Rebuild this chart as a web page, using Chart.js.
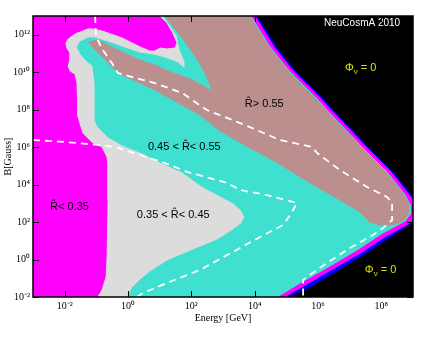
<!DOCTYPE html>
<html>
<head>
<meta charset="utf-8">
<script src="https://cdn.jsdelivr.net/npm/chart.js@4.4.0/dist/chart.umd.min.js"></script>
<style>
  html, body { margin: 0; padding: 0; background: #fff; }
</style>
</head>
<body>
<canvas id="myChart" width="440" height="340"></canvas>
<script>
// Axis range and ticks, in decades
const xTickExp = [-2, 0, 2, 4, 6, 8];
const yTickExp = [-2, 0, 2, 4, 6, 8, 10, 12];

// Contour regions, as [log10 E/GeV, log10 B/Gauss]
// (points beyond the axes are clipped away)
const backgroundRegion = [[-3.5, -2.5], [9.5, -2.5], [9.5, 13.5], [-3.5, 13.5]];

const grayRegion = [[1.01, 13.00], [1.23, 12.63], [1.42, 12.09], [1.55, 11.56], [1.48, 11.29], [1.23, 11.24],
  [1.01, 11.29], [0.85, 11.13], [0.69, 11.13], [0.38, 11.35], [-0.19, 11.83], [-0.82, 12.20], [-1.11, 12.31],
  [-1.26, 12.31], [-1.67, 12.04], [-1.89, 11.77], [-1.96, 11.56], [-1.93, 11.29], [-1.83, 11.02], [-1.83, 10.70],
  [-1.89, 10.33], [-1.83, 10.06], [-1.67, 9.90], [-1.61, 9.42], [-1.58, 8.57], [-1.58, 7.66], [-1.55, 7.45],
  [-1.42, 6.75], [-1.14, 6.27], [-0.82, 6.01], [-0.66, 5.47], [-0.63, 4.94], [-0.63, 3.18], [-0.66, 0.13],
  [-0.69, -0.93], [-0.82, -1.63], [-0.95, -2.00], [-0.95, -2.5], [9.5, -2.5], [9.5, 13.5], [1.01, 13.5]];

const cyanRegion = [[-1.61, 11.29], [-1.52, 11.61], [-1.26, 11.83], [-1.04, 11.83], [-0.63, 11.61], [0.00, 11.24],
  [0.38, 11.02], [0.79, 10.92], [1.17, 10.76], [1.58, 10.49], [1.83, 10.12], [1.80, 10.54], [1.71, 10.92],
  [1.64, 11.24], [1.55, 11.93], [1.39, 12.36], [1.23, 12.73], [1.11, 13.00], [1.11, 13.5], [9.5, 13.5],
  [9.5, -2.5], [-0.03, -2.5], [-0.03, -2.00], [0.16, -1.47], [0.38, -1.09], [0.69, -0.67], [1.23, -0.08],
  [2.05, 0.51], [2.81, 1.04], [3.22, 1.47], [3.57, 1.90], [3.69, 2.27], [3.57, 2.64], [3.32, 3.02], [2.91, 3.39],
  [2.37, 3.87], [1.71, 4.67], [1.07, 5.15], [0.44, 5.69], [-0.19, 6.11], [-0.63, 6.54], [-0.95, 7.07],
  [-1.04, 7.45], [-1.04, 8.52], [-1.04, 9.42], [-1.11, 10.33], [-1.36, 10.70], [-1.52, 11.02]];

const brownRegion = [[-1.26, 11.61], [-0.95, 11.72], [-0.57, 11.40], [-0.19, 11.08], [0.38, 10.65], [0.92, 10.33],
  [1.42, 9.96], [1.96, 9.64], [2.49, 9.16], [2.68, 9.00], [2.37, 10.17], [2.05, 11.02], [1.74, 11.77],
  [1.42, 12.47], [1.17, 13.00], [1.17, 13.5], [9.5, 13.5], [9.5, 2.64], [8.91, 2.64], [8.84, 2.38],
  [8.68, 2.06], [8.37, 1.84], [7.96, 1.84], [7.64, 2.00], [7.33, 2.54], [6.69, 3.18], [5.65, 4.19],
  [4.58, 5.31], [3.85, 5.95], [2.91, 6.86], [2.27, 7.72], [1.48, 8.46], [0.92, 9.00], [0.38, 9.42],
  [-0.32, 9.96], [-0.73, 10.70], [-1.14, 11.35]];

// edge of the Phi = 0 wedge: magenta band, thin blue band, then black
const magentaBand = [[3.88, 13.5], [3.88, 13.00], [4.48, 11.35], [5.12, 10.01], [5.97, 8.57], [6.28, 7.98],
  [7.42, 5.95], [8.18, 4.67], [8.75, 3.44], [8.91, 2.91], [8.91, 2.43], [8.75, 2.06], [8.05, 1.42], [7.23, 0.51],
  [6.16, -0.56], [5.43, -1.25], [4.71, -2.00], [4.71, -2.5], [9.5, -2.5], [9.5, 13.5]];

const blueBand = [[4.04, 13.5], [4.04, 13.00], [4.64, 11.35], [5.27, 10.01], [6.13, 8.57], [6.44, 7.98],
  [7.58, 5.95], [8.34, 4.67], [8.91, 3.44], [9.03, 3.18], [9.03, 2.06], [8.84, 1.84], [8.15, 1.20], [7.33, 0.29],
  [6.25, -0.77], [5.53, -1.47], [4.99, -2.00], [4.99, -2.5], [9.5, -2.5], [9.5, 13.5]];

const blackUpper = [[9.5, 13.5], [4.11, 13.5], [4.11, 13.00], [4.71, 11.35], [5.34, 10.01], [6.19, 8.57],
  [6.51, 7.98], [7.64, 5.95], [8.40, 4.67], [9.00, 3.39], [9.5, 3.39]];

const blackLower = [[9.5, 1.95], [9.00, 1.95], [8.24, 1.10], [7.42, 0.19], [6.38, -0.88], [5.68, -1.57],
  [5.12, -2.00], [5.12, -2.5], [9.5, -2.5]];

// white dashed curves
const dashUpper = [[-1.04, 13.00], [-1.01, 11.93], [-0.82, 11.24], [-0.51, 10.49], [-0.32, 9.96], [0.00, 9.80],
  [0.85, 9.42], [1.71, 8.89], [2.49, 7.98], [3.13, 7.56], [3.85, 7.07], [4.80, 6.38], [5.81, 6.01], [5.97, 5.69],
  [6.69, 4.78], [7.55, 3.87], [8.18, 3.34], [8.34, 3.02], [8.34, 2.11], [8.05, 1.68], [7.74, 1.31], [7.01, 0.62],
  [6.28, -0.19], [5.65, -0.93], [5.53, -1.09], [5.53, -2.00]];

const dashLower = [[-3.00, 6.38], [-1.96, 6.27], [-0.88, 6.11], [-0.41, 6.01], [0.16, 5.69], [1.07, 5.21],
  [1.89, 4.67], [3.13, 4.09], [3.54, 3.71], [4.39, 3.44], [5.34, 3.02], [5.12, 2.38], [4.89, 1.84], [4.17, 1.20],
  [3.54, 0.62], [2.27, -0.56], [1.23, -1.25], [0.47, -1.79], [0.28, -2.00]];

// texts inside the plot and where they sit (left edge, middle), same units
const regionTexts = ['R\u0302> 0.55', '0.45 < R\u0302< 0.55', '0.35 < R\u0302< 0.45', 'R\u0302< 0.35'];
const regionTextPos = [[3.69, 8.30], [0.63, 6.01], [0.28, 2.38], [-2.46, 2.80]];
const phiTextPos = [[6.85, 10.22], [7.48, -0.56]];
const creditText = 'NeuCosmA 2010';
const creditPos = [6.19, 12.63];

// colours
const cMagenta = '#ff00ff';
const cGray = '#dcdcdc';
const cCyan = '#40e0d0';
const cBrown = '#bc8f8f';
const cBlue = '#0000ff';
const cYellow = '#e0e000';

function toPoints(list) {
    return list.map(p => ({ x: Math.pow(10, p[0]), y: Math.pow(10, p[1]) }));
}

function area(label, pts, color, order, edge) {
    return {
        label: label,
        data: toPoints(pts),
        backgroundColor: color,
        borderColor: edge || color,
        borderWidth: 1,
        fill: 'shape',
        pointRadius: 0,
        tension: 0,
        order: order
    };
}

function dashed(label, pts) {
    return {
        label: label,
        data: toPoints(pts),
        borderColor: '#ffffff',
        borderWidth: 1.8,
        borderDash: [7, 5],
        fill: false,
        pointRadius: 0,
        tension: 0,
        order: 1
    };
}

const supDigits = { '-': '\u207B', '0': '\u2070', '1': '\u00B9', '2': '\u00B2', '3': '\u00B3', '4': '\u2074',
    '5': '\u2075', '6': '\u2076', '7': '\u2077', '8': '\u2078', '9': '\u2079' };

function powLabel(value) {
    let e = Math.round(Math.log10(value));
    return '10' + String(e).split('').map(c => supDigits[c]).join('');
}

// frame, inward ticks and the texts on top of the contours
const overlay = {
    id: 'overlay',
    afterDatasetsDraw(chart) {
        const ctx = chart.ctx;
        const a = chart.chartArea;
        const xs = chart.scales.x;
        const ys = chart.scales.y;
        const px = v => xs.getPixelForValue(Math.pow(10, v));
        const py = v => ys.getPixelForValue(Math.pow(10, v));

        ctx.save();
        ctx.textBaseline = 'middle';
        ctx.textAlign = 'left';
        ctx.fillStyle = '#000';
        ctx.font = '11px "Liberation Sans", Arial, sans-serif';
        regionTexts.forEach(function (t, i) {
            ctx.fillText(t, px(regionTextPos[i][0]), py(regionTextPos[i][1]));
        });

        ctx.fillStyle = cYellow;
        phiTextPos.forEach(function (p) {
            let x0 = px(p[0]);
            let y0 = py(p[1]);
            ctx.font = '11px "Liberation Sans", Arial, sans-serif';
            ctx.fillText('\u03A6', x0, y0);
            let w = ctx.measureText('\u03A6').width;
            ctx.font = '8px "Liberation Sans", Arial, sans-serif';
            ctx.fillText('\u03BD', x0 + w, y0 + 4);
            let w2 = ctx.measureText('\u03BD').width;
            ctx.font = '11px "Liberation Sans", Arial, sans-serif';
            ctx.fillText(' = 0', x0 + w + w2, y0);
        });

        ctx.fillStyle = '#fff';
        ctx.font = '10px "Liberation Sans", Arial, sans-serif';
        ctx.fillText(creditText, px(creditPos[0]), py(creditPos[1]));

        ctx.strokeStyle = '#000';
        ctx.lineWidth = 1;
        ctx.beginPath();
        xTickExp.forEach(function (e) {
            let x = Math.round(px(e)) + 0.5;
            ctx.moveTo(x, a.bottom); ctx.lineTo(x, a.bottom - 6);
            ctx.moveTo(x, a.top); ctx.lineTo(x, a.top + 6);
        });
        yTickExp.forEach(function (e) {
            let y = Math.round(py(e)) + 0.5;
            ctx.moveTo(a.left, y); ctx.lineTo(a.left + 6, y);
            ctx.moveTo(a.right, y); ctx.lineTo(a.right - 6, y);
        });
        ctx.stroke();

        ctx.lineWidth = 1.5;
        ctx.strokeRect(a.left, a.top, a.right - a.left, a.bottom - a.top);
        ctx.restore();
    }
};

const serif = '"Liberation Serif", "Times New Roman", serif';

const ctx = document.getElementById('myChart').getContext('2d');
const myChart = new Chart(ctx, {
    type: 'line',
    data: {
        datasets: [
            area('R < 0.35', backgroundRegion, cMagenta, 10),
            area('0.35 < R < 0.45', grayRegion, cGray, 9),
            area('0.45 < R < 0.55', cyanRegion, cCyan, 8),
            area('R > 0.55', brownRegion, cBrown, 7),
            area('edge', magentaBand, cMagenta, 6, cCyan),
            area('edge2', blueBand, cBlue, 5),
            area('Phi = 0 (high B)', blackUpper, '#000000', 4),
            area('Phi = 0 (low B)', blackLower, '#000000', 3),
            dashed('upper', dashUpper),
            dashed('lower', dashLower)
        ]
    },
    options: {
        responsive: false,
        animation: false,
        layout: { padding: { top: 16, right: 27, bottom: 15, left: 0 } },
        plugins: {
            legend: { display: false },
            tooltip: { enabled: false }
        },
        scales: {
            x: {
                type: 'logarithmic',
                min: 1e-3,
                max: 1e9,
                afterBuildTicks: (axis) => { axis.ticks = xTickExp.map(e => ({ value: Math.pow(10, e) })); },
                afterFit: (axis) => { axis.height = 28; },
                grid: { display: false, drawTicks: false },
                border: { display: false },
                ticks: {
                    callback: (v) => powLabel(v),
                    autoSkip: false,
                    maxRotation: 0,
                    padding: 3,
                    color: '#000',
                    font: { family: serif, size: 10 }
                },
                title: {
                    display: true,
                    text: 'Energy [GeV]',
                    color: '#000',
                    font: { family: serif, size: 10 },
                    padding: { top: 0, bottom: 1 }
                }
            },
            y: {
                type: 'logarithmic',
                min: 1e-2,
                max: 1e13,
                afterBuildTicks: (axis) => { axis.ticks = yTickExp.map(e => ({ value: Math.pow(10, e) })); },
                afterFit: (axis) => { axis.width = 33; },
                grid: { display: false, drawTicks: false },
                border: { display: false },
                ticks: {
                    callback: (v) => powLabel(v),
                    autoSkip: false,
                    padding: 3,
                    color: '#000',
                    font: { family: serif, size: 10 }
                },
                title: {
                    display: true,
                    text: 'B[Gauss]',
                    color: '#000',
                    font: { family: serif, size: 10 },
                    padding: { top: 2, bottom: 0 }
                }
            }
        }
    },
    plugins: [overlay]
});
</script>
</body>
</html>
